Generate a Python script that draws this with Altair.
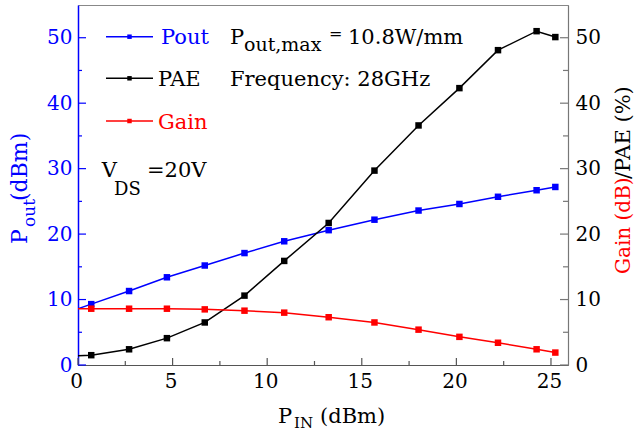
import altair as alt
import pandas as pd

# ---------------- data ----------------
pin = [-1.3, 0.7, 2.7, 4.7, 6.7, 8.8, 10.9, 13.25, 15.67, 18.0, 20.16, 22.2, 24.24, 25.23]
pout = [7.3, 9.3, 11.3, 13.4, 15.2, 17.1, 18.9, 20.6, 22.2, 23.6, 24.6, 25.7, 26.7, 27.2]
pae = [1.2, 1.5, 2.4, 4.1, 6.5, 10.6, 15.9, 21.7, 29.7, 36.6, 42.3, 48.1, 51.0, 50.1]
gain = [8.6, 8.6, 8.6, 8.6, 8.5, 8.3, 8.0, 7.3, 6.5, 5.4, 4.3, 3.4, 2.4, 1.9]

x_major = [0, 5, 10, 15, 20, 25]
x_minor = [2.5, 7.5, 12.5, 17.5, 22.5]
y_major = [0, 10, 20, 30, 40, 50]
y_minor = [5, 15, 25, 35, 45]

series_names = ["Pout", "PAE", "Gain"]
series_colors = ["#0000ff", "#000000", "#ff0000"]

# ---------------- layout ----------------
W, H = 490, 360
FONT = "DejaVu Serif"
BLUE, BLACK, RED = series_colors

df = pd.DataFrame({"pin": pin, "pout": pout, "pae": pae, "gain": gain})

xscale = alt.Scale(domain=[0, 25.9], nice=False, zero=False)
yscale = alt.Scale(domain=[0, 55], nice=False, zero=False)

LBL = 20
x_axis = alt.Axis(values=x_major, ticks=False, grid=False, labelFont=FONT,
                  labelFontSize=LBL, labelColor="black", labelPadding=6,
                  labelOffset=-2, labelFlush=False, labelOverlap=False,
                  domainColor="#555555", domainWidth=1.2, title=None)
left_axis = alt.Axis(orient="left", values=y_major, ticks=False, grid=False,
                     labelFont=FONT, labelFontSize=LBL, labelColor=BLUE,
                     labelPadding=6, labelFlush=False, labelOverlap=False,
                     domainColor=BLUE, domainWidth=1.5, title=None)
right_axis = alt.Axis(orient="right", values=y_major, ticks=False, grid=False,
                      labelFont=FONT, labelFontSize=LBL, labelColor="black",
                      labelPadding=7, labelFlush=False, labelOverlap=False,
                      domainColor="#777777", domainWidth=1.2, title=None)


def series(field, color, axis):
    enc = dict(
        x=alt.X("pin:Q", scale=xscale, axis=x_axis),
        y=alt.Y(f"{field}:Q", scale=yscale, axis=axis),
    )
    line = alt.Chart(df).mark_line(color=color, strokeWidth=1.5, clip=True).encode(**enc)
    pts = alt.Chart(df).mark_point(shape="square", filled=True, size=42, color=color,
                                   opacity=1, clip=True).encode(**enc)
    return [line, pts]


def yticks(vals, x0, x1, color, axis):
    return alt.Chart(pd.DataFrame({"v": vals})).mark_rule(color=color, strokeWidth=1.2).encode(
        y=alt.Y("v:Q", scale=yscale, axis=axis), x=alt.value(x0), x2=alt.value(x1))


def xticks(vals, length):
    return alt.Chart(pd.DataFrame({"v": vals})).mark_rule(color="#555555", strokeWidth=1.2).encode(
        x=alt.X("v:Q", scale=xscale, axis=x_axis), y=alt.value(H - length), y2=alt.value(H))


def txt(s, x, y, size=21, color="black", angle=0):
    return alt.Chart(pd.DataFrame({"t": [s]})).mark_text(
        align="left", baseline="alphabetic", font=FONT, fontSize=size,
        color=color, angle=angle).encode(x=alt.value(x), y=alt.value(y), text="t:N")


left_group = alt.layer(
    *series("pout", BLUE, left_axis),
    yticks(y_major, 0, 8, BLUE, left_axis),
    yticks(y_minor, 0, 4, BLUE, left_axis),
    xticks(x_major, 7),
    xticks(x_minor, 4),
)

right_group = alt.layer(
    *series("pae", BLACK, right_axis),
    *series("gain", RED, right_axis),
    yticks(y_major, W - 8, W, "#777777", right_axis),
    yticks(y_minor, W - 5, W, "#777777", right_axis),
)

# legend (drawn by hand)
legend_rows = [31.7, 73.3, 116]
legend_layers = []
for name, color, ry, tx in zip(series_names, series_colors, legend_rows, [83, 80, 80]):
    d = pd.DataFrame({"s": [name]})
    legend_layers.append(alt.Chart(d).mark_rule(color=color, strokeWidth=1.5).encode(
        x=alt.value(28), x2=alt.value(75), y=alt.value(ry)))
    legend_layers.append(alt.Chart(d).mark_point(shape="square", filled=True, size=20,
                                                 color=color, opacity=1).encode(
        x=alt.value(51.5), y=alt.value(ry)))
    legend_layers.append(txt(name, tx, ry + 7.5, 21, color))

annotations = [
    txt("P", 152, 38.5, 21),
    txt("out,max", 166, 46, 19),
    txt("=", 251, 34, 16),
    txt("10.8W/mm", 270, 38.5, 21),
    txt("Frequency: 28GHz", 152, 80.5, 21),
    txt("V", 23.7, 171.7, 21),
    txt("DS", 36, 190, 18),
    txt("=20V", 69, 171.7, 21),
    # left axis title
    txt("P", -51, 239, 22, BLUE, 270),
    txt("out", -43, 222, 17, BLUE, 270),
    txt("(dBm)", -51, 196, 22, BLUE, 270),
    # right axis title
    txt("Gain (dB)", 552, 269, 20, RED, 270),
    txt("/PAE (%)", 552, 174, 21, BLACK, 270),
    # x axis title
    txt("P", 200, 418, 21),
    txt("IN", 216, 423, 15),
    txt("(dBm)", 242, 418, 21),
]

chart = alt.layer(left_group, right_group, *legend_layers, *annotations).resolve_scale(
    y="independent"
).properties(
    width=W, height=H,
    autosize=alt.AutoSizeParams(type="none"),
    padding={"left": 78, "top": 5, "right": 69, "bottom": 66},
    background="white",
).configure_view(stroke="#888888", strokeWidth=1)

chart.save("out.html", embed_options={"renderer": "svg", "actions": False})
